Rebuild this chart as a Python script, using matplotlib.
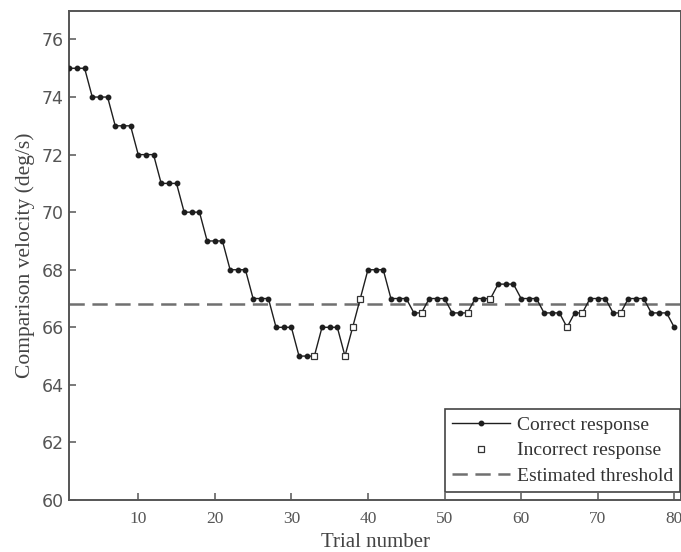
import matplotlib
matplotlib.use("Agg")
import matplotlib.pyplot as plt
from matplotlib.lines import Line2D

# ---- data ----
trials = list(range(1, 81))
velocity = [75, 75, 75, 74, 74, 74, 73, 73, 73, 72, 72, 72, 71, 71, 71, 70, 70, 70,
            69, 69, 69, 68, 68, 68, 67, 67, 67, 66, 66, 66, 65, 65, 65, 66, 66, 66,
            65, 66, 67, 68, 68, 68, 67, 67, 67, 66.5, 66.5, 67, 67, 67, 66.5, 66.5, 66.5,
            67, 67, 67, 67.5, 67.5, 67.5, 67, 67, 67, 66.5, 66.5, 66.5, 66, 66.5, 66.5,
            67, 67, 67, 66.5, 66.5, 67, 67, 67, 66.5, 66.5, 66.5, 66]
incorrect_trials = [33, 37, 38, 39, 47, 53, 56, 66, 68, 73]
threshold = 66.8
x_ticks = [10, 20, 30, 40, 50, 60, 70, 80]
y_ticks = [60, 62, 64, 66, 68, 70, 72, 74, 76]
series_labels = ["Correct response", "Incorrect response", "Estimated threshold"]
x_label = "Trial number"
y_label = "Comparison velocity (deg/s)"

plt.rcParams["lines.scale_dashes"] = False

fig = plt.figure(figsize=(6.81, 5.52), dpi=100)
ax = fig.add_axes([69.3 / 681, 52 / 552, 1 - 69.3 / 681, (500 - 10.7) / 552])

line_col = "#1e1e1e"
correct_x = [t for t in trials if t not in incorrect_trials]
correct_y = [v for t, v in zip(trials, velocity) if t not in incorrect_trials]
inc_y = [velocity[trials.index(t)] for t in incorrect_trials]

ax.plot(trials, velocity, color=line_col, lw=1.0, zorder=3)
ax.plot(correct_x, correct_y, ls="none", marker="o", ms=3.2, color=line_col, zorder=4)
ax.plot(incorrect_trials, inc_y, ls="none", marker="s", ms=4.6, mfc="white",
        mec="#333333", mew=0.9, zorder=5)
ax.axhline(threshold, color="#707070", lw=1.8, dashes=(11, 5.5), zorder=2)

ax.set_xlim(1, 80.88)
ax.set_ylim(60, 77)
ax.set_xticks(x_ticks)
ax.set_yticks(y_ticks)

for s in ax.spines.values():
    s.set_color("#555555")
    s.set_linewidth(1.4)

ax.tick_params(direction="in", length=5, width=1.1, color="#555555")
ax.tick_params(axis="x", pad=8)
ax.tick_params(axis="y", pad=4)
for lab in ax.get_xticklabels():
    lab.set_family("Liberation Serif")
    lab.set_fontsize(12.5)
    lab.set_color("#555555")
for lab in ax.get_yticklabels():
    lab.set_family("DejaVu Sans")
    lab.set_fontsize(12.5)
    lab.set_color("#555555")

ax.set_xlabel(x_label, family="Liberation Serif", fontsize=15, color="#444444", labelpad=4)
ax.set_ylabel(y_label, family="Liberation Serif", fontsize=15.5, color="#444444", labelpad=5)

handles = [
    Line2D([], [], color=line_col, lw=1.0, marker="o", ms=3.2),
    Line2D([], [], ls="none", marker="s", ms=4.6, mfc="white", mec="#333333", mew=0.9),
    Line2D([], [], color="#707070", lw=1.8, dashes=(11, 5.5)),
]
leg = ax.legend(handles, series_labels, loc="lower right",
                bbox_to_anchor=(0.9984, 8 / 488.6),
                prop={"family": "Liberation Serif", "size": 14},
                handlelength=3.0, handletextpad=0.35, labelspacing=0.42,
                borderpad=0.35, fancybox=False, framealpha=1, edgecolor="#444444",
                borderaxespad=0.0)
leg.get_frame().set_linewidth(1.2)
for t in leg.get_texts():
    t.set_color("#333333")

fig.savefig("out.png", dpi=100)
